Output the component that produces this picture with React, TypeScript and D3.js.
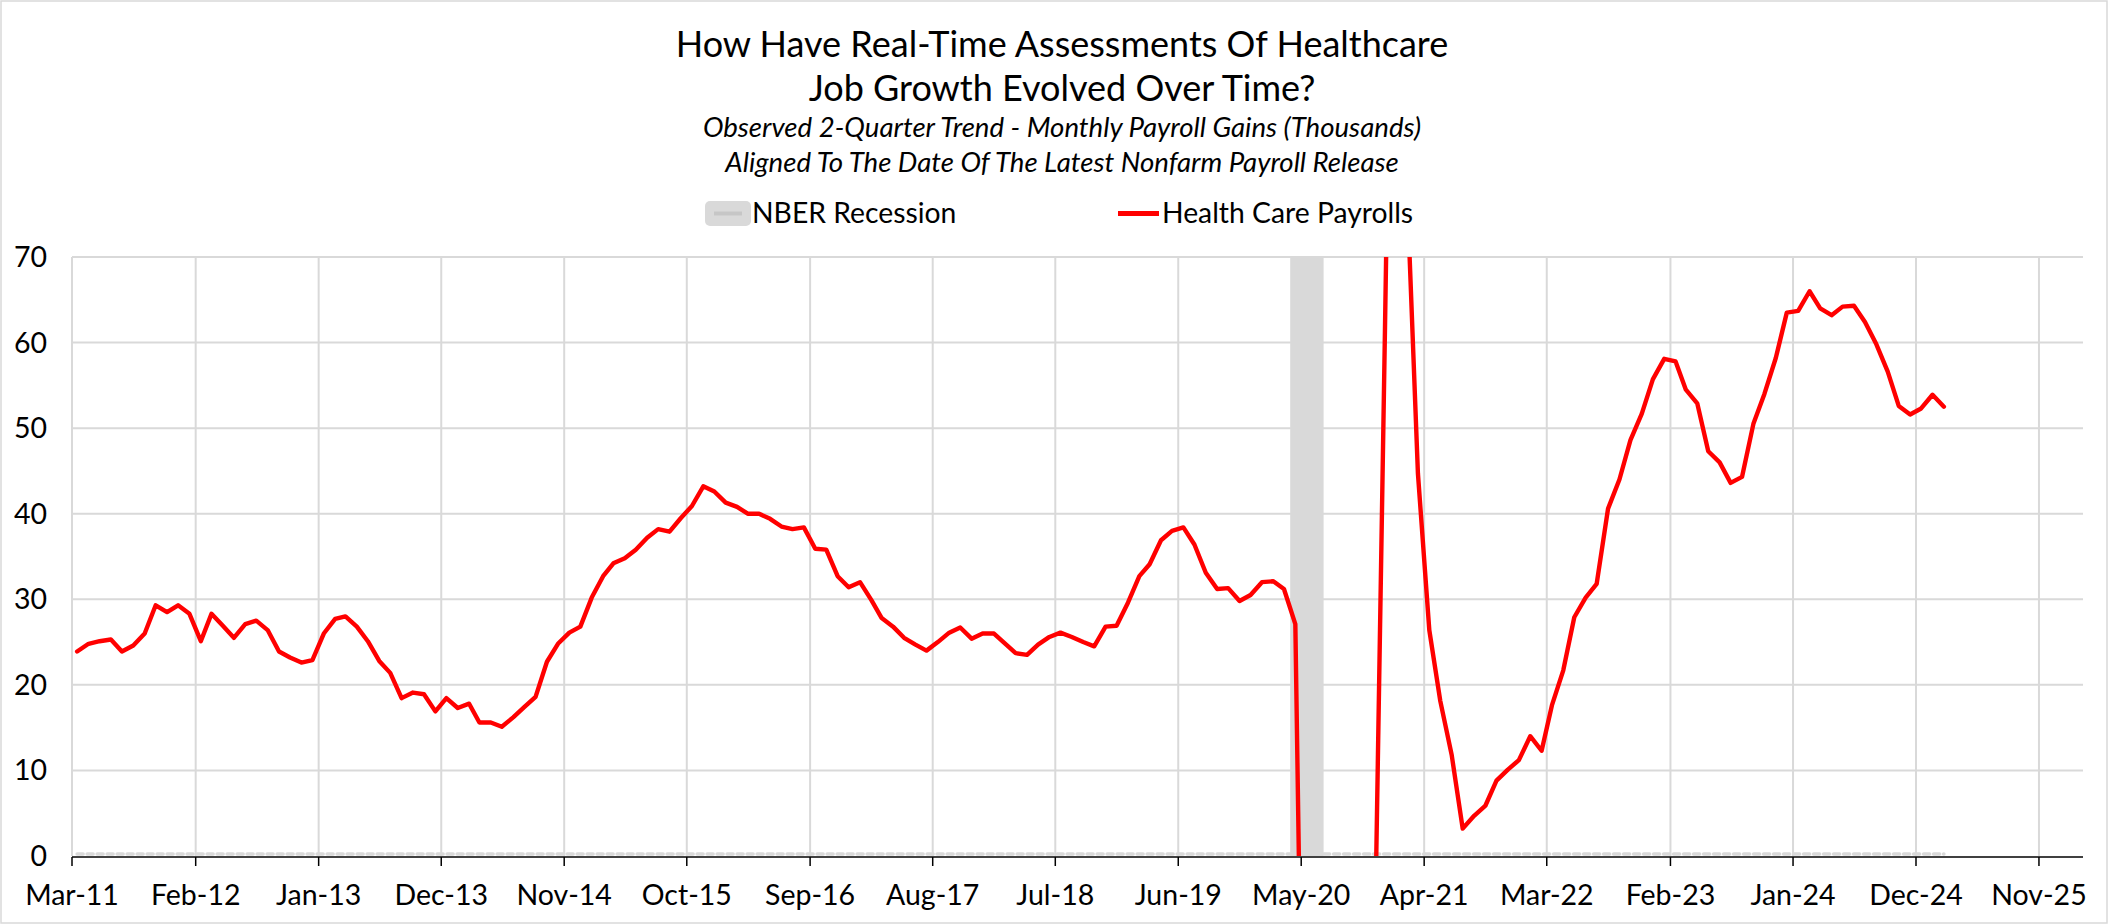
import React from 'react';
import * as d3 from 'd3';

const W = 2108;
const H = 924;

const titleLines = ['How Have Real-Time Assessments Of Healthcare', 'Job Growth Evolved Over Time?'];
const subtitleLines = [
  'Observed 2-Quarter Trend - Monthly Payroll Gains (Thousands)',
  'Aligned To The Date Of The Latest Nonfarm Payroll Release',
];
const legendLabels = ['NBER Recession', 'Health Care Payrolls'];

// first observation: March 2011, one value per month (plotted mid-month, at release timing)
const firstMonth = '2011-03';
const healthCare = [
  23.9, 24.8, 25.1, 25.3, 23.9, 24.6, 26.0, 29.3, 28.5, 29.3, 28.3, 25.1, 28.3, 26.9, 25.5, 27.1, 27.5, 26.4, 23.9, 23.2,
  22.6, 22.9, 26.0, 27.7, 28.0, 26.8, 25.1, 22.8, 21.4,
  18.45, 19.1, 18.9, 16.9, 18.45, 17.3, 17.8, 15.6, 15.6, 15.1, 16.2, 17.4, 18.6, 22.7, 24.8, 26.1, 26.8, 30.2, 32.7,
  34.2, 34.8, 35.8, 37.2, 38.2, 37.9, 39.5, 40.9, 43.2,
  42.6, 41.3, 40.8, 40.0, 40.0, 39.4, 38.5, 38.2, 38.4, 35.9, 35.8, 32.7, 31.4, 32.0, 29.9, 27.8, 26.8, 25.5, 24.7,
  24.0, 25.0, 26.1, 26.7, 25.4, 26.0, 26.0, 24.8, 23.7,
  23.5, 24.7, 25.6, 26.1, 25.6, 25.0, 24.5, 26.8, 26.9, 29.6, 32.7, 34.1, 36.9, 38.0, 38.4, 36.4, 33.1, 31.2, 31.3,
  29.8, 30.5, 32.0, 32.1, 31.2, 27.1,
  -58, -230, -180, -150, -120, -80, -17, 61, 145, 76, 44.7,
  26.4, 18.1, 11.8, 3.2, 4.7, 5.9, 8.8, 10.1, 11.2, 14.0, 12.3, 17.6, 21.7, 27.9, 30.2, 31.8, 40.6, 44.0, 48.6, 51.7,
  55.7, 58.1, 57.8, 54.5, 52.9, 47.3, 46.0, 43.6, 44.3, 50.5, 54.0, 58.2, 63.5, 63.7, 66.0, 64.0, 63.2, 64.2, 64.3,
  62.4, 59.8, 56.6, 52.6, 51.6, 52.3, 53.9, 52.5,
];
const recessionMonths = ['2020-04', '2020-05', '2020-06'];

const yTicks = [0, 10, 20, 30, 40, 50, 60, 70];
const xTickLabels = [
  'Mar-11', 'Feb-12', 'Jan-13', 'Dec-13', 'Nov-14', 'Oct-15', 'Sep-16', 'Aug-17', 'Jul-18',
  'Jun-19', 'May-20', 'Apr-21', 'Mar-22', 'Feb-23', 'Jan-24', 'Dec-24', 'Nov-25',
];
const xDomain = ['2011-03-01', '2026-03-01'];
const yDomain = [0, 70];

const FONT = 'Lato, "Open Sans", sans-serif';
const GRID = '#d9d9d9';

export default function App() {
  const margin = { left: 72, right: W - 2083, top: 257, bottom: H - 856 };
  const parseMonth = d3.timeParse('%Y-%m');
  const parseDay = d3.timeParse('%Y-%m-%d');
  const parseTick = d3.timeParse('%b-%y');

  const x = d3
    .scaleTime()
    .domain(xDomain.map((s) => parseDay(s) as Date))
    .range([margin.left, W - margin.right]);
  const y = d3.scaleLinear().domain(yDomain).range([H - margin.bottom, margin.top]);

  const start = parseMonth(firstMonth) as Date;
  const points = healthCare.map((v, i) => {
    const m = d3.timeMonth.offset(start, i);
    return { date: d3.timeDay.offset(m, 14), month: m, v };
  });

  const line = d3
    .line<{ date: Date; v: number }>()
    .x((d) => x(d.date))
    .y((d) => y(d.v));

  const recStart = parseMonth(recessionMonths[0]) as Date;
  const recEnd = d3.timeMonth.offset(parseMonth(recessionMonths[recessionMonths.length - 1]) as Date, 1);

  const first = points[0].date;
  const last = points[points.length - 1].date;
  const baseSegs = [
    [first, recStart],
    [recEnd, last],
  ];

  const xTicks = xTickLabels.map((l) => ({ label: l, date: parseTick(l) as Date }));

  const x0 = margin.left;
  const x1 = W - margin.right;
  const yTop = margin.top;
  const yBot = H - margin.bottom;
  const cx = W / 2 + 8;

  return (
    <svg
      width={W}
      height={H}
      style={{ position: 'absolute', left: 0, top: 0, background: '#fff' }}
      fontFamily={FONT}
    >
      <rect x={0} y={0} width={W} height={H} fill="#fff" />
      <rect x={1} y={1} width={W - 2} height={H - 2} fill="none" stroke={GRID} strokeWidth={1.5} />

      {/* titles */}
      <g textAnchor="middle" fill="#000">
        <text x={cx} y={57} fontSize={36}>
          {titleLines[0]}
        </text>
        <text x={cx} y={101} fontSize={36}>
          {titleLines[1]}
        </text>
        <text x={cx} y={137} fontSize={27.6} fontStyle="italic">
          {subtitleLines[0]}
        </text>
        <text x={cx} y={172} fontSize={27.6} fontStyle="italic">
          {subtitleLines[1]}
        </text>
      </g>

      {/* legend */}
      <g>
        <rect x={705} y={201} width={46} height={25} rx={5} fill={GRID} />
        <line x1={714} x2={742} y1={213.5} y2={213.5} stroke="#c6c6c6" strokeWidth={4} />
        <text x={752} y={223} fontSize={28.3} fill="#000">
          {legendLabels[0]}
        </text>
        <line x1={1118} x2={1159} y1={213.5} y2={213.5} stroke="#ff0000" strokeWidth={5} />
        <text x={1162} y={223} fontSize={28.3} fill="#000">
          {legendLabels[1]}
        </text>
      </g>

      <defs>
        <clipPath id="plotClip">
          <rect x={x0} y={yTop} width={x1 - x0} height={yBot - yTop} />
        </clipPath>
      </defs>

      {/* gridlines */}
      <g stroke={GRID} strokeWidth={2}>
        {yTicks
          .filter((t) => t > 0)
          .map((t) => (
            <line key={'h' + t} x1={x0} x2={x1} y1={y(t)} y2={y(t)} />
          ))}
        {xTicks.map((t) => (
          <line key={'v' + t.label} x1={x(t.date)} x2={x(t.date)} y1={yTop} y2={yBot} />
        ))}
      </g>

      {/* recession band */}
      <rect x={x(recStart)} y={y(70)} width={x(recEnd) - x(recStart)} height={y(0) - y(70)} fill={GRID} />
      {baseSegs.map((s, i) => (
        <line
          key={'b' + i}
          x1={x(s[0])}
          x2={x(s[1])}
          y1={y(0) - 2}
          y2={y(0) - 2}
          stroke={GRID}
          strokeWidth={3.5}
          strokeDasharray="6 4"
          strokeLinecap="round"
        />
      ))}

      {/* series line */}
      <path
        d={line(points) || ''}
        fill="none"
        stroke="#ff0000"
        strokeWidth={4.4}
        strokeLinejoin="round"
        strokeLinecap="round"
        clipPath="url(#plotClip)"
      />

      {/* x axis */}
      <line x1={x0} x2={x1} y1={yBot + 1} y2={yBot + 1} stroke="#000" strokeWidth={1.5} />
      {xTicks.map((t) => (
        <g key={'t' + t.label}>
          <line x1={x(t.date)} x2={x(t.date)} y1={yBot + 1} y2={yBot + 10} stroke="#000" strokeWidth={1.5} />
          <text x={x(t.date)} y={905} fontSize={28.5} textAnchor="middle" fill="#000">
            {t.label}
          </text>
        </g>
      ))}

      {/* y axis labels */}
      {yTicks.map((t) => (
        <text key={'y' + t} x={47} y={y(t)} dy="0.35em" fontSize={28.5} textAnchor="end" fill="#000">
          {t}
        </text>
      ))}
    </svg>
  );
}
